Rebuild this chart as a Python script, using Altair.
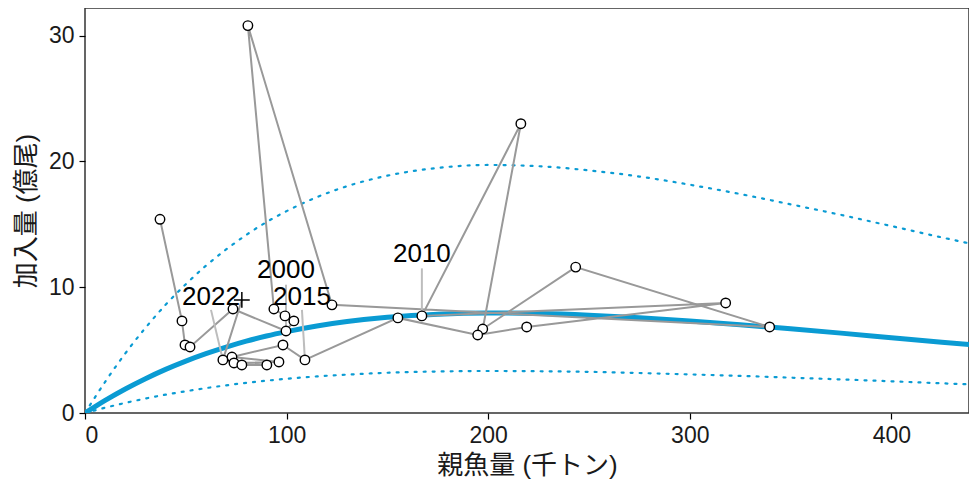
import altair as alt
import pandas as pd

# ---- observed stock-recruitment pairs (SSB: 千トン, recruits: 億尾) ----
years = list(range(1995, 2024))
ssb = [37.2, 48.1, 49.6, 52.1, 73.4, 99.7, 103.6, 99.2, 93.7, 80.8,
       122.5, 339.6, 243.4, 197.3, 216.2, 167.1, 317.8, 219.1, 194.8, 155.2,
       109.1, 98.2, 72.9, 96.2, 73.9, 90.2, 77.8, 68.4, 77.8]
rec = [15.4, 7.32, 5.41, 5.25, 8.27, 6.52, 7.32, 7.72, 8.27, 30.8,
       8.6, 6.84, 11.6, 6.68, 23.0, 7.72, 8.75, 6.84, 6.2, 7.56,
       4.22, 5.41, 4.45, 4.06, 3.98, 3.82, 3.82, 4.22, 8.99]

# ---- fitted curve and band ----
curve_s = [0, 5, 10, 20, 30, 40, 50, 60, 70, 80, 90, 100, 115, 130, 150, 175,
           200, 225, 250, 275, 300, 325, 350, 375, 400, 425, 442]
curve_mid = [0, 0.51, 1.00, 1.91, 2.73, 3.47, 4.13, 4.72, 5.24, 5.71, 6.12, 6.47,
             6.92, 7.27, 7.61, 7.86, 7.95, 7.91, 7.78, 7.58, 7.32, 7.02, 6.69,
             6.35, 5.99, 5.63, 5.39]
curve_hi = [0, 1.26, 2.48, 4.74, 6.77, 8.61, 10.24, 11.71, 13.0, 14.16, 15.18,
            16.05, 17.16, 18.03, 18.87, 19.49, 19.72, 19.62, 19.29, 18.80, 18.15,
            17.41, 16.59, 15.75, 14.86, 13.96, 13.37]
curve_lo = [0, 0.21, 0.42, 0.80, 1.15, 1.46, 1.73, 1.98, 2.20, 2.40, 2.57, 2.72,
            2.91, 3.05, 3.20, 3.30, 3.34, 3.32, 3.27, 3.18, 3.07, 2.95, 2.81,
            2.67, 2.52, 2.36, 2.26]

# ---- year labels ----
label_text = ["2000", "2010", "2015", "2022"]
label_year = [2000, 2010, 2015, 2022]
label_x = [99.7, 167.1, 107.6, 62.5]
label_y = [11.4, 12.65, 9.23, 9.23]
leader_top = [10.2, 11.5, 8.2, 8.2]

FONT = "Liberation Sans, Arial, Noto Sans CJK JP"
BLUE = "#0a9bd3"

obs = pd.DataFrame({"year": years, "x": ssb, "y": rec})
pts = obs[obs["year"] <= 2022]
plus = obs[obs["year"] == 2023]
curve = pd.DataFrame({"x": curve_s, "mid": curve_mid, "hi": curve_hi, "lo": curve_lo})
yr2y = dict(zip(years, rec))
yr2x = dict(zip(years, ssb))
labels = pd.DataFrame({
    "text": label_text,
    "x": label_x,
    "y": label_y,
    "ytop": leader_top,
    "x2": [yr2x[y] for y in label_year],
    "y2": [yr2y[y] for y in label_year],
})

xscale = alt.Scale(domain=[0, 438.5], nice=False, zero=True)
yscale = alt.Scale(domain=[0, 32.2], nice=False, zero=True)
common = dict(grid=False, domain=False, tickSize=6, tickColor="black", tickWidth=1.2,
              labelFont=FONT, labelFontSize=23, labelColor="#1a1a1a", labelPadding=5,
              titleFont=FONT, titleFontSize=26, titleFontWeight="normal",
              titleColor="#1a1a1a")
xaxis = alt.Axis(title="親魚量 (千トン)", values=[0, 100, 200, 300, 400],
                 titlePadding=5, **common)
yaxis = alt.Axis(title="加入量 (億尾)", values=[0, 10, 20, 30],
                 titlePadding=9, **common)

X = alt.X("x:Q", scale=xscale, axis=xaxis)
Y = alt.Y("y:Q", scale=yscale, axis=yaxis)

base_curve = alt.Chart(curve)
hi_line = base_curve.mark_line(color=BLUE, strokeWidth=2.2, strokeDash=[2, 7],
                               interpolate="monotone", strokeCap="round", clip=True).encode(
    x=X, y=alt.Y("hi:Q", scale=yscale, axis=yaxis))
lo_line = base_curve.mark_line(color=BLUE, strokeWidth=2.2, strokeDash=[2, 7],
                               interpolate="monotone", strokeCap="round", clip=True).encode(
    x=X, y=alt.Y("lo:Q", scale=yscale, axis=yaxis))
mid_line = base_curve.mark_line(color=BLUE, strokeWidth=5, interpolate="monotone",
                                clip=True).encode(
    x=X, y=alt.Y("mid:Q", scale=yscale, axis=yaxis))

path = alt.Chart(obs).mark_line(color="#999999", strokeWidth=2).encode(
    x=X, y=Y, order=alt.Order("year:Q"))

leaders = alt.Chart(labels).mark_rule(color="#bdbdbd", strokeWidth=2).encode(
    x=X, y=alt.Y("ytop:Q", scale=yscale, axis=yaxis), x2="x2:Q", y2="y2:Q")

circles = alt.Chart(pts).mark_point(shape="circle", filled=True, fill="white",
                                    stroke="black", strokeWidth=1.4, size=90,
                                    opacity=1).encode(x=X, y=Y)

plus_mark = alt.Chart(plus).mark_point(shape="M-1,0L1,0M0,-1L0,1", filled=False,
                                       stroke="black", strokeWidth=1.5, size=250,
                                       opacity=1).encode(x=X, y=Y)

texts = alt.Chart(labels).mark_text(font=FONT, fontSize=26, color="black",
                                    baseline="middle", align="center").encode(
    x=X, y=Y, text="text:N")

chart = alt.layer(hi_line, lo_line, mid_line, path, leaders, circles, plus_mark, texts).properties(
    width=884, height=405,
    background="white",
    autosize=alt.AutoSizeParams(type="none"),
    padding={"left": 77, "top": 0, "right": 0, "bottom": 70},
).configure_view(stroke="#333333", strokeWidth=1.5)

chart.save("out.html", embed_options={"renderer": "svg", "actions": False})
